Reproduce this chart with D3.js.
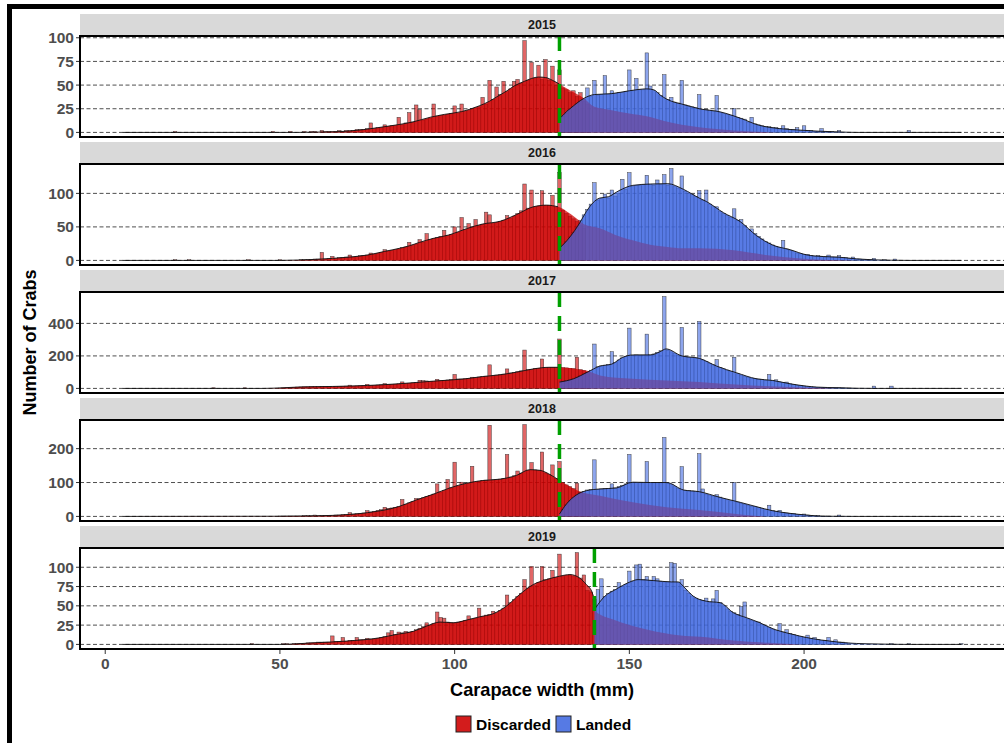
<!DOCTYPE html>
<html><head><meta charset="utf-8">
<script src="https://cdn.jsdelivr.net/npm/d3@7"></script>
<style>body{margin:0;background:#fff}svg{display:block;font-family:"Liberation Sans",Arial,sans-serif}</style>
</head><body><svg id="c" width="1004" height="743"></svg>
<script>
// ---------------- DATA ----------------
const years = ["2015","2016","2017","2018","2019"];
const cutoffs = [130,130,130,130,140];
const yTickStep = [25,50,200,100,25];
const xTicks = [0,50,100,150,200];
const xLimits = [4.8, 245.2];
const seriesNames = ["Discarded","Landed"];

// 1 mm histogram bins: first width and counts
const discStart = [55,55,50,50,50];
const landStart = [131,131,131,131,141];

const disc2015 = [0,0,1,0,1, 1,0,2,1,1, 1,1,2,1,2, 2,2,3,3,3, 4,10,4,5,5, 8,6,7,7,16, 8,10,21,11,29, 24,13,14,15,30, 17,18,18,19,20, 28,20,30,22,23, 25,26,27,37,30, 55,35,48,40,54, 43,46,54,56,52, 97,55,74,57,71, 56,77,55,70,50, 66,47,45,42,44, 38,42,33,30];
const land2015 = [17,20,24,27,30, 33,35,47,38,55, 39,40,60,40,44, 41,42,42,43,66, 44,57,45,45,84, 49,44,42,39,61, 35,37,32,31,55, 29,28,27,26,40, 24,24,23,22,39, 21,20,19,18,25, 16,15,14,11,16, 9,8,7,6,6, 5,5,4,7,4, 3,3,5,2,7, 2,2,1,1,4, 1,1,1,0,2];

const disc2016 = [0,1,1,1,1, 2,2,12,2,3, 6,3,4,4,5, 8,5,6,7,7, 8,11,9,10,12, 16,14,15,16,17, 19,20,27,22,24, 31,27,40,31,33, 34,36,45,37,39, 50,42,64,46,55, 49,61,52,54,72, 68,55,57,58,60, 67,63,66,70,74, 114,78,105,80,81, 104,82,82,97,79, 131,75,70,66,62, 58,52,48];
const land2016 = [22,28,35,42,50, 60,68,76,84,116, 90,92,99,93,105, 96,100,121,106,131, 110,112,112,113,127, 113,112,120,113,128, 112,137,110,108,126, 103,100,98,95,104, 90,105,84,80,80, 73,70,67,64,77, 60,61,52,46,47, 40,36,32,28,26, 23,21,19,30,17, 15,13,11,10,9, 9,7,6,7,6, 5,8,5,5,7, 4,4,3,5,2, 2,1,1,1,3, 0,0,1,0,0,2];

const disc2017 = [2,3,4,5,6, 8,9,10,10,12, 12,11,12,12,12, 12,12,13,13,14, 20,14,15,16,17, 25,18,19,21,22, 30,24,25,26,28, 40,30,32,34,36, 50,48,46,42,44, 56,47,50,52,55, 86,58,58,59,62, 69,66,70,72,75, 145,78,82,84,88, 120,95,98,104,108, 236,115,118,122,124, 181,128,128,130,128, 304,128,126,124,122, 192,115,110,100];
const land2017 = [42,48,53,59,70, 80,90,100,112,273, 133,138,142,146,226, 160,175,188,198,371, 204,206,205,205,334, 206,212,222,232,565, 235,225,215,205,375, 196,192,190,187,412, 175,165,155,145,177, 128,120,112,104,192, 90,82,74,68,63, 60,57,54,51,86, 48,53,40,36,39, 28,24,20,17,14, 12,10,8,7,6, 5,4,4,4,4, 3,2,2,1,1, 0,0,0,0,14, 0,0,0,0,14];

const disc2018 = [1,1,1,1,1, 1,1,2,2,2, 4,2,2,3,3, 3,4,4,5,6, 11,7,8,9,10, 17,13,15,18,20, 27,24,25,27,29, 50,36,40,44,53, 52,55,59,62,66, 96,72,76,109,84, 160,90,101,96,98, 148,102,104,106,107, 269,108,109,110,112, 183,116,120,134,128, 271,136,159,137,136, 190,128,124,152,112, 162,100,93,88,82, 98,72,68,64];
const land2018 = [20,34,45,55,63, 70,74,78,79,167, 80,81,82,82,96, 84,88,92,96,183, 100,100,100,100,162, 100,100,100,100,233, 98,94,88,82,147, 77,76,75,74,185, 81,66,63,60,64, 57,52,49,46,100, 42,39,36,33,30, 29,26,23,20,33, 17,15,18,11,10, 9,8,6,5,7, 4,3,2,2,1, 1,1,0,0,4];

const disc2019 = [0,1,1,0,1, 1,1,1,2,2, 2,3,3,3,3, 11,4,4,9,4, 5,5,9,6,6, 8,7,7,8,9, 10,15,18,13,16, 15,17,16,17,19, 21,23,28,25,27, 42,35,34,29,28, 28,29,30,31,37, 33,34,47,36,38, 39,43,41,44,47, 64,54,58,62,66, 84,73,101,76,80, 101,84,85,96,87, 117,88,89,90,88, 119,86,90,70,68, 58];
const land2019 = [71,85,62,66,69, 71,80,75,78,95, 82,103,104,84,88, 83,88,85,82,81, 81,106,105,80,84, 70,66,62,60,58, 57,60,55,59,70, 54,50,46,43,41, 39,49,55,33,31, 30,29,26,24,22, 20,18,27,16,19, 14,13,11,10,9, 12,8,9,6,5, 5,9,4,6,3, 3,2];

// isolated small bars [width, count]
const discStray = [[[20,1],[48,1],[53,1]], [[20,1],[24,1],[41,1],[50,1]], [[31,4],[40,4]], [], [[42,1]]];
const landStray = [[[230,2]], [], [], [], [[225,1],[230,1],[245,1]]];

// smoothed count curves [width, count]
const discCurve2015 = [[5,0],[55,0],[60,0.3],[65,0.6],[70,1.5],[74,3],[78,5],[83,7.7],[88,11],[93,16],[97,19],[102,22],[107,28],[110,33],[112,37.5],[115,44],[117,49],[120,54],[122,57],[124,58.5],[126,58],[128,55],[130,51],[133,44.6],[137,36],[140,27],[145,23.5],[150,20],[155,17],[160,12],[165,8],[170,5.5],[175,3.5],[180,2],[185,1],[190,0.3],[195,0],[245,0]];
const landCurve2015 = [[130,15],[131,18],[132,22],[133,25],[135,31],[137,36],[140,40],[145,41],[150,44],[155,46],[157,45],[159,39],[162,33],[165,30],[170,25],[176,21.7],[182,14.7],[187,7.7],[193,4],[199,2.4],[204,1.3],[210,0.5],[215,0],[245,0]];
const discCurve2016 = [[5,0],[50,0],[55,0.5],[60,1.5],[65,3],[70,5],[75,8],[80,13.5],[85,19],[87,21.8],[90,27],[94,33],[98.6,38.3],[103.4,47.4],[108,54.3],[113,58.4],[117.7,68.4],[122.5,80],[126.3,82.5],[129.6,80],[132,73.4],[134.8,63],[137,54],[141.6,48],[146,38],[151,30],[156,23.3],[161,20],[165,18],[170,18],[180,15],[189,8],[199,3],[208,0.5],[215,0],[245,0]];
const landCurve2016 = [[130,18],[133,35],[135.8,56],[137.7,73],[139.6,86],[141.5,93],[144,95],[147,104],[151,112],[156,114],[161,114.5],[165.5,106],[170,93],[172,88],[177,71],[181.7,58],[186.4,37],[191,23],[196,16],[200.7,8.3],[205.5,5.8],[210,4.8],[215,2.3],[220,0.8],[225,0.3],[230,0],[245,0]];
const discCurve2017 = [[5,0],[45,0],[50,3],[55,8],[65,12],[75,18],[84,28.5],[94,45],[103,59],[108,73],[113,84],[117.7,100],[122.5,120],[127,130],[130,130],[134.8,120],[137.7,110],[141.6,80],[151,59],[160.7,49],[170,39],[181.7,22],[196,8],[210,0],[245,0]];
const landCurve2017 = [[130,39],[134,59],[138,100],[141.5,137],[145,150],[148,190],[151,206],[156,206],[158.8,226],[160.5,243],[165,200],[170,185],[175,137],[180.7,96],[186.4,59],[191,49],[196,28.5],[200.7,14],[203.6,8],[210,4],[215,1],[220,0],[245,0]];
const discCurve2018 = [[5,0],[50,0.5],[55,1],[65,3],[75,11],[84,29],[89,48.5],[94,66],[98.6,84],[103.4,98],[108,106],[113,110],[117.7,121],[121.5,138],[124.4,136],[127.2,124],[130,106],[133,88],[134.8,78],[141.6,61],[151,41.6],[160.7,27],[170,19],[180,8],[185,3],[190,0],[245,0]];
const landCurve2018 = [[130,7],[132,36.6],[134.8,63],[137.7,76],[141.6,81],[146.3,84],[151,101],[156,100],[160.7,100],[165.5,78],[170,73],[176,56],[181.7,41.6],[186.4,28.7],[191,16.8],[196,9],[200.7,4],[205.5,0.5],[210,0.3],[215,0],[245,0]];
const discCurve2019 = [[5,0],[50,0],[59.5,2],[69,4.3],[78.6,8.6],[83.4,13],[88.2,17],[92,23.7],[95.8,29],[99.6,28],[103.4,31.5],[107.2,35.8],[111,39.7],[114.8,49.6],[118.6,64.7],[122.5,77.6],[126.3,84],[130,88.4],[133,90.5],[135.8,86],[137.7,77.6],[139.2,69],[140,58],[140.3,43],[145.6,32],[155,19.4],[164.7,11.6],[170.4,10],[180,5],[190,2],[200,0],[245,0]];
const landCurve2019 = [[140,45],[141,51.7],[143,62.5],[146,71],[150,80.6],[152.5,84],[157,82.7],[162,81],[164,81],[165.5,75],[168.3,62.5],[172,56],[176,54],[179.8,41],[183.6,34.5],[187.4,28],[191.2,20],[195,15],[198.8,10.8],[202.6,7.3],[207.4,4.3],[212,2],[218,0.8],[225,0.2],[230,0],[245,0]];

const discCounts = [disc2015, disc2016, disc2017, disc2018, disc2019];
const landCounts = [land2015, land2016, land2017, land2018, land2019];
const discCurves = [discCurve2015, discCurve2016, discCurve2017, discCurve2018, discCurve2019];
const landCurves = [landCurve2015, landCurve2016, landCurve2017, landCurve2018, landCurve2019];

// ---------------- STYLE / LAYOUT ----------------
const RED = "#CD0000", BLUE = "#4169E1";
const PL = 80, PR = 1004, top0 = 36, step = 128, PH = 101, SH = 21;

const svg = d3.select("#c");
svg.append("rect").attr("width",1004).attr("height",743).attr("fill","#fff");

const pad = (xLimits[1]-xLimits[0])*0.05;
const x = d3.scaleLinear().domain([xLimits[0]-pad, xLimits[1]+pad]).range([PL, PR]);

function toBars(start, arr){ return arr.map((v,i)=>[start+i, v]).filter(d=>d[1]>0); }

years.forEach((yr, i) => {
  const top = top0 + i*step;
  const dBars = toBars(discStart[i], discCounts[i]).concat(discStray[i]);
  const lBars = toBars(landStart[i], landCounts[i]).concat(landStray[i]);
  const M = d3.max(dBars.concat(lBars), d=>d[1]);
  const y = d3.scaleLinear().domain([-0.05*M, 1.05*M]).range([top+PH, top]);
  const g = svg.append("g");

  // strip
  g.append("rect").attr("x",PL).attr("y",top-SH-1).attr("width",PR-PL+5).attr("height",SH)
    .attr("fill","#D9D9D9");
  g.append("text").attr("x",(PL+PR)/2).attr("y",top-SH-1+SH/2).attr("dy","0.36em")
    .attr("text-anchor","middle").attr("font-size",12.5).attr("font-weight","bold")
    .attr("fill","#1A1A1A").text(yr);

  // grid + y ticks
  const ticks = d3.range(0, 1.05*M, yTickStep[i]);
  const clipId = "clip"+i;
  svg.append("clipPath").attr("id",clipId).append("rect")
     .attr("x",PL).attr("y",top).attr("width",PR-PL).attr("height",PH);
  const pg = g.append("g").attr("clip-path",`url(#${clipId})`);
  ticks.forEach(t=>{
    pg.append("line").attr("x1",PL).attr("x2",PR).attr("y1",y(t)).attr("y2",y(t))
      .attr("stroke","#222").attr("stroke-width",0.8).attr("stroke-dasharray","4,2.5");
    g.append("line").attr("x1",PL-4).attr("x2",PL).attr("y1",y(t)).attr("y2",y(t))
      .attr("stroke","#333").attr("stroke-width",1);
    g.append("text").attr("x",PL-6).attr("y",y(t)).attr("dy","0.36em").attr("text-anchor","end")
      .attr("font-size",15.5).attr("font-weight","bold").attr("fill","#4D4D4D").text(t);
  });

  // bars
  const drawBars = (bars, col) => pg.append("g").selectAll("rect").data(bars).join("rect")
    .attr("x", d=>x(d[0]-0.5)).attr("width", d=>x(d[0]+0.5)-x(d[0]-0.5))
    .attr("y", d=>y(d[1])).attr("height", d=>y(0)-y(d[1]))
    .attr("fill", col).attr("fill-opacity",0.6)
    .attr("stroke","#1a1a1a").attr("stroke-width",0.5).attr("stroke-opacity",0.8);
  drawBars(dBars, RED);
  drawBars(lBars, BLUE);

  // smoothed areas
  const area = d3.area().x(d=>x(d[0])).y0(y(0)).y1(d=>y(d[1])).curve(d3.curveMonotoneX);
  const line = d3.line().x(d=>x(d[0])).y(d=>y(d[1])).curve(d3.curveMonotoneX);
  pg.append("path").datum(discCurves[i]).attr("d",area).attr("fill",RED).attr("fill-opacity",0.74);
  pg.append("path").datum(landCurves[i]).attr("d",area).attr("fill",BLUE).attr("fill-opacity",0.7);
  pg.append("path").datum(discCurves[i].filter(d=>d[0]<=cutoffs[i])).attr("d",line)
    .attr("fill","none").attr("stroke","#111").attr("stroke-width",0.9);
  pg.append("path").datum(landCurves[i]).attr("d",line)
    .attr("fill","none").attr("stroke","#111").attr("stroke-width",0.9);

  // cutoff line
  pg.append("line").attr("x1",x(cutoffs[i])).attr("x2",x(cutoffs[i]))
    .attr("y1",top).attr("y2",top+PH)
    .attr("stroke","#00A000").attr("stroke-width",3.5).attr("stroke-dasharray","15,9");

  // panel border
  g.append("rect").attr("x",PL).attr("y",top).attr("width",PR-PL+5).attr("height",PH)
    .attr("fill","none").attr("stroke","#000").attr("stroke-width",2);
});

// x axis (bottom panel)
const bottom = top0 + 4*step + PH;
xTicks.forEach(t=>{
  svg.append("line").attr("x1",x(t)).attr("x2",x(t)).attr("y1",bottom+1).attr("y2",bottom+5)
    .attr("stroke","#333");
  svg.append("text").attr("x",x(t)).attr("y",bottom+14).attr("dy","0.36em").attr("text-anchor","middle")
    .attr("font-size",15.5).attr("font-weight","bold").attr("fill","#4D4D4D").text(t);
});
svg.append("text").attr("x",(PL+PR)/2).attr("y",689).attr("dy","0.36em").attr("text-anchor","middle")
  .attr("font-size",18.2).attr("font-weight","bold").attr("fill","#000").text("Carapace width (mm)");
svg.append("text").attr("transform",`translate(30,${(top0+bottom)/2}) rotate(-90)`)
  .attr("dy","0.36em").attr("text-anchor","middle")
  .attr("font-size",18).attr("font-weight","bold").attr("fill","#000").text("Number of Crabs");

// legend
const leg = [{name:seriesNames[0], col:RED, x:456},{name:seriesNames[1], col:BLUE, x:556}];
leg.forEach(l=>{
  svg.append("rect").attr("x",l.x).attr("y",716).attr("width",15).attr("height",16)
    .attr("fill",l.col).attr("fill-opacity",0.6);
  svg.append("rect").attr("x",l.x).attr("y",716).attr("width",15).attr("height",16)
    .attr("fill",l.col).attr("fill-opacity",0.72).attr("stroke","#222").attr("stroke-width",1);
  svg.append("text").attr("x",l.x+20).attr("y",724).attr("dy","0.36em")
    .attr("font-size",15.5).attr("font-weight","bold").attr("fill","#000").text(l.name);
});

// outer frame
svg.append("rect").attr("x",9.5).attr("y",6.5).attr("width",2000).attr("height",2000)
  .attr("fill","none").attr("stroke","#000").attr("stroke-width",5);
</script></body></html>
